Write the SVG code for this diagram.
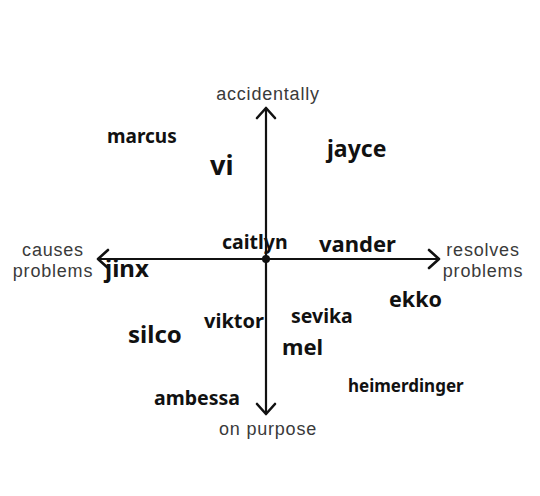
<svg xmlns="http://www.w3.org/2000/svg" width="540" height="496" viewBox="0 0 540 496">
<style>
.ax{font-family:"Liberation Sans",Arial,sans-serif;font-size:18px;letter-spacing:0.8px;fill:#3a3a3a;text-anchor:middle}
.n{font-family:"Noto Sans","Open Sans",sans-serif;font-weight:700;fill:#111}
.ln{stroke:#111;stroke-width:2.2;fill:none}
.hd{stroke:#111;stroke-width:2.6;fill:none;stroke-linecap:round;stroke-linejoin:round}
</style>
<rect width="540" height="496" fill="#fff"/>
<g id="connectors">
<line class="ln" x1="266" y1="108" x2="266" y2="414"/>
<line class="ln" x1="98" y1="259" x2="439" y2="259"/>
<polyline class="hd" points="257,118 266,108 275,118"/>
<polyline class="hd" points="257,404 266,414 275,404"/>
<polyline class="hd" points="108,250 98,259 108,268"/>
<polyline class="hd" points="429,250 439,259 429,268"/>
<circle cx="266" cy="259" r="4" fill="#111"/>
</g>
<g id="axis-labels">
<text class="ax" x="268" y="100">accidentally</text>
<text class="ax" x="268" y="435">on purpose</text>
<text class="ax" x="53" y="256">causes</text>
<text class="ax" x="53" y="277">problems</text>
<text class="ax" x="483" y="256">resolves</text>
<text class="ax" x="483" y="277">problems</text>
</g>
<g id="marcus"><text class="n" x="107" y="143" font-size="19">marcus</text></g>
<g id="vi"><text class="n" x="210" y="175" font-size="27">vi</text></g>
<g id="jayce"><text class="n" x="327" y="157" font-size="23">jayce</text></g>
<g id="caitlyn"><text class="n" x="222" y="249" font-size="19.5">caitlyn</text></g>
<g id="vander"><text class="n" x="319" y="252" font-size="22">vander</text></g>
<g id="jinx"><text class="n" x="105" y="277" font-size="24">jinx</text></g>
<g id="ekko"><text class="n" x="389" y="307" font-size="21.5">ekko</text></g>
<g id="viktor"><text class="n" x="204" y="328" font-size="20">viktor</text></g>
<g id="sevika"><text class="n" x="291" y="323" font-size="19.5">sevika</text></g>
<g id="silco"><text class="n" x="128" y="343" font-size="24">silco</text></g>
<g id="mel"><text class="n" x="282" y="355" font-size="22">mel</text></g>
<g id="heimerdinger"><text class="n" x="348" y="392" font-size="17">heimerdinger</text></g>
<g id="ambessa"><text class="n" x="154" y="405" font-size="19.5">ambessa</text></g>
</svg>
